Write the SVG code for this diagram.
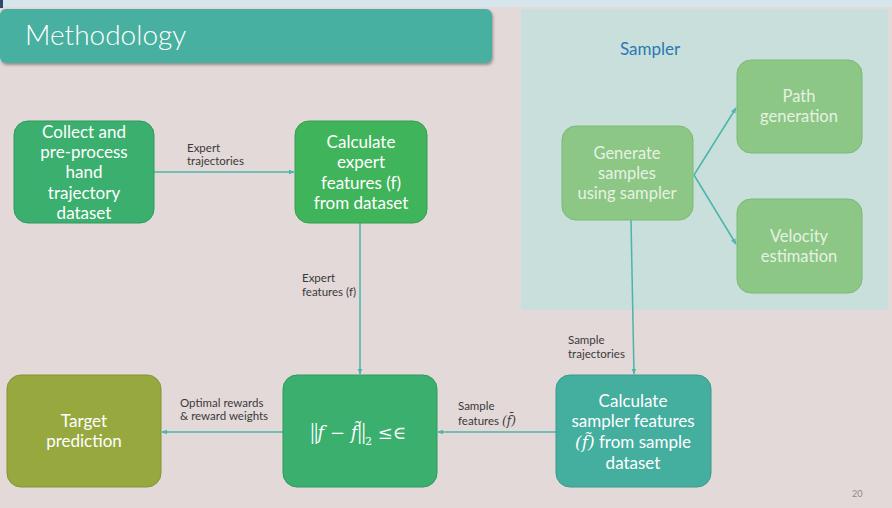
<svg xmlns="http://www.w3.org/2000/svg" width="892" height="508" viewBox="0 0 892 508">
<defs>
<marker id="ah" viewBox="0 0 10 10" refX="9" refY="5" markerWidth="6" markerHeight="6" orient="auto-start-reverse" markerUnits="userSpaceOnUse">
<path d="M0,1 L10,5 L0,9 z" fill="#4ab5a8"/>
</marker>
<filter id="sh" x="-5%" y="-20%" width="110%" height="150%">
<feDropShadow dx="1" dy="2" stdDeviation="1.5" flood-color="#000" flood-opacity="0.35"/>
</filter>
</defs>
<style>
.t{font-family:Lato,"Open Sans","Liberation Sans",sans-serif;fill:#ffffff;text-anchor:middle;font-size:17px}
.ts{font-family:Lato,"Open Sans","Liberation Sans",sans-serif;fill:#e6f2e2;text-anchor:middle;font-size:16.5px}
.lbl{font-family:Lato,"Open Sans","Liberation Sans",sans-serif;fill:#3a3a3a;font-size:11.5px}
.c{stroke:#4ab5a8;stroke-width:1.5;fill:none;marker-end:url(#ah)}
.m{font-family:"DejaVu Serif","Liberation Serif",serif;font-style:italic}
.bar{font-family:"Liberation Serif","DejaVu Serif",serif;font-size:24px;font-style:normal}
</style>
<rect x="0" y="0" width="892" height="508" fill="#e3d9d8"/>
<rect x="0" y="0" width="892" height="7" fill="#d6e6ec"/>
<rect x="0" y="0" width="3" height="8" fill="#2c4a6a"/>

<g id="title">
<rect x="0" y="9" width="492" height="54" rx="6" fill="#46b0a0" filter="url(#sh)"/>
<text x="25" y="45" font-family="Lato,'Open Sans','Liberation Sans',sans-serif" font-weight="300" font-size="28" fill="#ffffff">Methodology</text>
</g>

<g id="sampler-panel">
<rect x="521" y="9" width="367" height="301" fill="#c9dfdb"/>
<text x="620" y="55" font-family="Lato,'Open Sans','Liberation Sans',sans-serif" font-size="17" fill="#2b78b5">Sampler</text>
</g>

<g id="connectors">
<line class="c" x1="154" y1="172" x2="294" y2="172"/>
<line class="c" x1="360" y1="223" x2="360" y2="374"/>
<line class="c" x1="283" y1="432" x2="162" y2="432"/>
<line class="c" x1="556" y1="432" x2="438" y2="432"/>
<line class="c" x1="631" y1="220" x2="634" y2="374"/>
<line class="c" x1="694" y1="175" x2="736" y2="108"/>
<line class="c" x1="694" y1="175" x2="736" y2="244"/>
<text class="lbl" x="187" y="152">Expert</text>
<text class="lbl" x="187" y="165">trajectories</text>
<text class="lbl" x="302" y="282">Expert</text>
<text class="lbl" x="302" y="296">features (f)</text>
<text class="lbl" x="180" y="407">Optimal rewards</text>
<text class="lbl" x="180" y="420">&amp; reward weights</text>
<text class="lbl" x="458" y="410">Sample</text>
<text class="lbl" x="458" y="425">features <tspan class="m" font-size="12">(f̄)</tspan></text>
<text class="lbl" x="568" y="344">Sample</text>
<text class="lbl" x="568" y="358">trajectories</text>
</g>

<g id="collect">
<rect x="14" y="121" width="140" height="102" rx="14" fill="#3aaf6e" stroke="#2f9a5e" stroke-width="1"/>
<text class="t" x="84" y="138">Collect and</text>
<text class="t" x="84" y="158">pre-process</text>
<text class="t" x="84" y="178">hand</text>
<text class="t" x="84" y="199">trajectory</text>
<text class="t" x="84" y="219">dataset</text>
</g>

<g id="expert-features">
<rect x="295" y="121" width="132" height="102" rx="14" fill="#40b45a" stroke="#33a04c" stroke-width="1"/>
<text class="t" x="361" y="148">Calculate</text>
<text class="t" x="361" y="168">expert</text>
<text class="t" x="361" y="189">features (f)</text>
<text class="t" x="361" y="209">from dataset</text>
</g>

<g id="norm">
<rect x="283" y="375" width="154" height="112" rx="14" fill="#3aaf6e" stroke="#2f9a5e" stroke-width="1"/>
<text x="358" y="439" text-anchor="middle" font-family="'DejaVu Serif','Liberation Serif',serif" font-size="18" fill="#ffffff"><tspan class="bar" letter-spacing="-1">||</tspan><tspan font-style="italic">f</tspan> − <tspan font-style="italic">f̃</tspan><tspan class="bar" letter-spacing="-1">||</tspan><tspan font-size="11" dy="6">2</tspan><tspan dy="-6"> ≤∈</tspan></text>
</g>

<g id="target">
<rect x="7" y="375" width="154" height="112" rx="14" fill="#97a83f" stroke="#849434" stroke-width="1"/>
<text class="t" x="84" y="427">Target</text>
<text class="t" x="84" y="447">prediction</text>
</g>

<g id="sampler-features">
<rect x="556" y="375" width="155" height="112" rx="14" fill="#44ae9f" stroke="#389a8c" stroke-width="1"/>
<text class="t" x="633" y="407">Calculate</text>
<text class="t" x="633" y="427">sampler features</text>
<text class="t" x="633" y="448"><tspan class="m">(f̃)</tspan> from sample</text>
<text class="t" x="633" y="469">dataset</text>
</g>

<g id="generate">
<rect x="562" y="126" width="131" height="94" rx="14" fill="#8cc785" stroke="#7db877" stroke-width="1"/>
<text class="ts" x="627" y="159">Generate</text>
<text class="ts" x="627" y="179">samples</text>
<text class="ts" x="627" y="199">using sampler</text>
</g>

<g id="path-generation">
<rect x="737" y="60" width="125" height="93" rx="14" fill="#8cc785" stroke="#7db877" stroke-width="1"/>
<text class="ts" x="799" y="102">Path</text>
<text class="ts" x="799" y="122">generation</text>
</g>

<g id="velocity-estimation">
<rect x="737" y="199" width="125" height="94" rx="14" fill="#8cc785" stroke="#7db877" stroke-width="1"/>
<text class="ts" x="799" y="242">Velocity</text>
<text class="ts" x="799" y="262">estimation</text>
</g>

<text x="852" y="497" font-family="Lato,'Open Sans','Liberation Sans',sans-serif" font-size="9" fill="#8a8a8a">20</text>
</svg>
